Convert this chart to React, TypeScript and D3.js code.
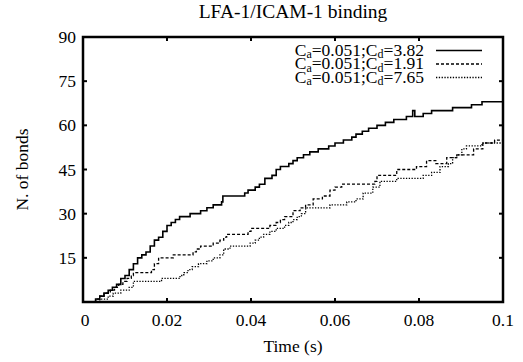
import React from "react";
import * as d3 from "d3";

const title = "LFA-1/ICAM-1 binding";
const xLabel = "Time (s)";
const yLabel = "N. of bonds";
const xTicks = [0, 0.02, 0.04, 0.06, 0.08, 0.1];
const xTickLabels = ["0", "0.02", "0.04", "0.06", "0.08", "0.1"];
const yTicks = [15, 30, 45, 60, 75, 90];

const seriesNames = ["3.82", "1.91", "7.65"];

// Cd = 3.82 (solid)
const solidT = [0.0025,0.003,0.004,0.005,0.006,0.007,0.008,0.009,0.010,0.011,0.012,0.013,0.014,0.015,0.016,0.017,0.018,0.019,0.020,0.021,0.022,0.023,0.0255,0.028,0.0295,0.031,0.033,0.0333,0.0385,0.0393,0.041,0.042,0.0433,0.045,0.046,0.047,0.049,0.050,0.051,0.0525,0.054,0.056,0.0585,0.060,0.062,0.064,0.065,0.0665,0.068,0.070,0.072,0.074,0.077,0.0785,0.079,0.081,0.083,0.088,0.0925,0.095,0.1];
const solidV = [0,1,2,3,4,5,6,8,9,11,13,15,16,17,19,21,22,24,26,27,28,29,30,31,32,33,34,36,37,38,39,40,42,43,45,46,47,48,49,50,51,52,53,54,55,56,57,58,59,60,61,62,63,65,63,64,65,66,67,68,68];

// Cd = 1.91 (dashed)
const dashT = [0.0028,0.003,0.004,0.005,0.0065,0.0075,0.0085,0.0095,0.0105,0.0115,0.012,0.0163,0.017,0.018,0.0215,0.0262,0.027,0.028,0.031,0.0326,0.0335,0.0342,0.0393,0.040,0.0445,0.046,0.047,0.048,0.050,0.0517,0.053,0.0548,0.057,0.0588,0.060,0.0616,0.0695,0.070,0.0747,0.0794,0.0818,0.084,0.0866,0.089,0.093,0.0952,0.098,0.1];
const dashV = [0,1,2,3,4,5,6,7,8,9,10,11,13,15,16,17,18,19,20,21,22,23,24,25,26,27,28,29,31,32,33,35,36,38,39,40,41,43,45,46,48,47,49,50,52,54,55,56];

// Cd = 7.65 (dotted)
const dotT = [0.003,0.004,0.006,0.0072,0.009,0.011,0.012,0.0187,0.0231,0.024,0.025,0.026,0.0275,0.0295,0.031,0.0326,0.0335,0.035,0.0398,0.041,0.042,0.043,0.0445,0.046,0.048,0.049,0.050,0.051,0.052,0.053,0.0588,0.0628,0.065,0.0667,0.069,0.0707,0.0747,0.081,0.083,0.085,0.087,0.088,0.089,0.0902,0.0913,0.095,0.1];
const dotV = [0,1,2,3,4,5,7,8,9,10,11,12,13,14,15,16,18,19,20,21,22,23,24,25,26,27,28,29,30,32,33,34,35,37,39,41,42,43,44,46,47,49,50,52,53,54,55];

const W = 523, H = 362;
const left = 83, right = 503, top = 37, bottom = 302;
const FONT = "'Liberation Serif', 'Times New Roman', serif";

export default function App() {
  const x = d3.scaleLinear().domain([0, 0.1]).range([left, right]);
  const y = d3.scaleLinear().domain([0, 90]).range([bottom, top]);
  const line = d3.line<[number, number]>()
    .x(d => x(d[0])).y(d => y(d[1])).curve(d3.curveStepAfter);
  const mk = (t: number[], v: number[]) => t.map((tt, i) => [tt, v[i]] as [number, number]);
  const series = [
    { d: mk(solidT, solidV), dash: "none", w: 1.6 },
    { d: mk(dashT, dashV), dash: "3,2", w: 1.3 },
    { d: mk(dotT, dotV), dash: "1.3,1.5", w: 1.3 },
  ];
  const legendY = [50.5, 64, 77.5];
  const tl = 4;
  return (
    <svg width={W} height={H} style={{ position: "absolute", left: 0, top: 0, background: "#fff" }}
      fontFamily={FONT}>
      <rect x={0} y={0} width={W} height={H} fill="#fff" />
      <text x={293} y={18} textAnchor="middle" fontSize={19.5}>{title}</text>
      {series.map((s, i) => (
        <path key={i} d={line(s.d) || ""} fill="none" stroke="#000" strokeWidth={s.w}
          strokeDasharray={s.dash} />
      ))}
      {xTicks.slice(1, -1).map((t, i) => (
        <g key={"xt" + i}>
          <line x1={x(t)} x2={x(t)} y1={bottom} y2={bottom - tl} stroke="#000" strokeWidth={2} />
          <line x1={x(t)} x2={x(t)} y1={top} y2={top + tl} stroke="#000" strokeWidth={2} />
        </g>
      ))}
      {yTicks.slice(0, -1).map((t, i) => (
        <g key={"yt" + i}>
          <line x1={left} x2={left + tl} y1={y(t)} y2={y(t)} stroke="#000" strokeWidth={2} />
          <line x1={right} x2={right - tl} y1={y(t)} y2={y(t)} stroke="#000" strokeWidth={2} />
        </g>
      ))}
      <rect x={left} y={top} width={right - left} height={bottom - top} fill="none" stroke="#000" strokeWidth={2.5} />
      {xTicks.map((t, i) => (
        <text key={"xl" + i} x={x(t) + (i === 0 ? 2 : 0)} y={326} textAnchor="middle" fontSize={17.5}>{xTickLabels[i]}</text>
      ))}
      {yTicks.map((t, i) => (
        <text key={"yl" + i} x={76} y={y(t) + 6} textAnchor="end" fontSize={17.5}>{t}</text>
      ))}
      <text x={293} y={352} textAnchor="middle" fontSize={17.5}>{xLabel}</text>
      <text transform={`translate(28,${(top + bottom) / 2}) rotate(-90)`} textAnchor="middle" fontSize={17.5}>{yLabel}</text>
      {seriesNames.map((n, i) => (
        <g key={"lg" + i}>
          <text x={424} y={legendY[i] + 5} textAnchor="end" fontSize={17.5}>
            C<tspan fontSize={12} dy={2.5}>a</tspan><tspan dy={-2.5}>=0.051;C</tspan><tspan fontSize={12} dy={2.5}>d</tspan><tspan dy={-2.5}>={n}</tspan>
          </text>
          <line x1={436} x2={482} y1={legendY[i]} y2={legendY[i]} stroke="#000"
            strokeWidth={series[i].w} strokeDasharray={series[i].dash} />
        </g>
      ))}
    </svg>
  );
}
